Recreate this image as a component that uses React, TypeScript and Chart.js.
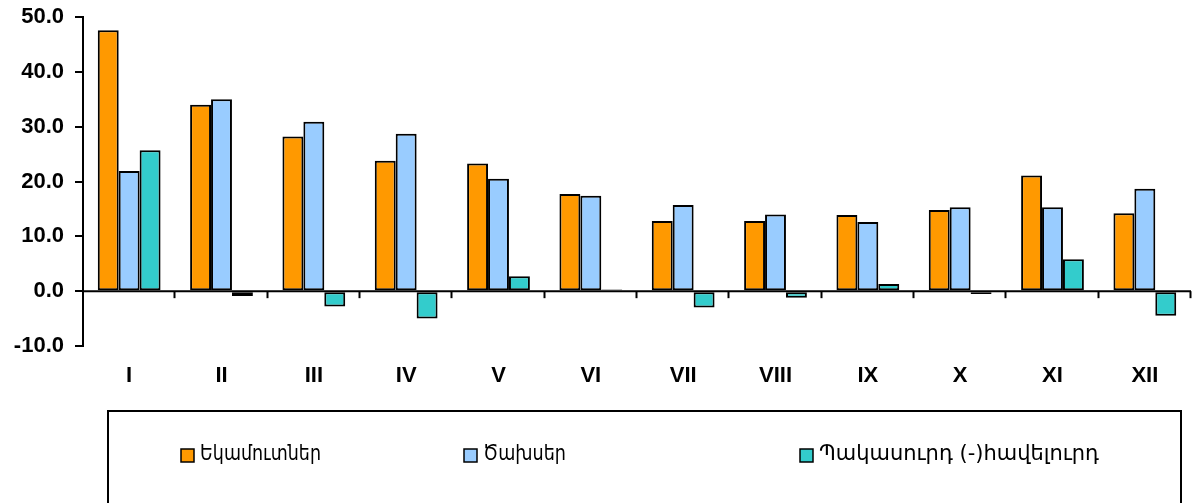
import React, { useEffect, useRef } from "react";
import { Chart, registerables } from "chart.js";

Chart.register(...registerables);

const categories = ["I", "II", "III", "IV", "V", "VI", "VII", "VIII", "IX", "X", "XI", "XII"];
const revenues = [47.6, 34.0, 28.2, 23.8, 23.3, 17.7, 12.8, 12.8, 13.9, 14.8, 21.1, 14.2];
const expenditures = [21.9, 35.0, 30.9, 28.7, 20.5, 17.4, 15.7, 14.0, 12.6, 15.3, 15.3, 18.7];
const balance = [25.7, -0.9, -2.8, -5.0, 2.7, 0.3, -3.0, -1.2, 1.3, -0.5, 5.8, -4.5];
const seriesNames = ["Եկամուտներ", "Ծախսեր", "Պակասուրդ (-)հավելուրդ"];
const seriesColors = ["#FF9900", "#99CCFF", "#33CCCC"];
const yTicks = [-10, 0, 10, 20, 30, 40, 50];

const legendItemX = [181, 464, 800];
const legendTextWidth = [121, 83, 280];

const overlayPlugin = {
  id: "overlay",
  afterDatasetsDraw(chart: any) {
    const { ctx, chartArea, scales } = chart;
    const y0 = scales.y.getPixelForValue(0);
    ctx.save();
    ctx.strokeStyle = "#000";
    ctx.lineWidth = 2;
    ctx.beginPath();
    ctx.moveTo(chartArea.left, y0);
    ctx.lineTo(chartArea.right, y0);
    ctx.stroke();
    const n = categories.length;
    const w = (chartArea.right - chartArea.left) / n;
    for (let i = 1; i <= n; i++) {
      const x = Math.round(chartArea.left + i * w) - 0.5;
      ctx.beginPath();
      ctx.moveTo(x, y0);
      ctx.lineTo(x, y0 + 7);
      ctx.stroke();
    }
    ctx.restore();
  },
  afterDraw(chart: any) {
    const { ctx } = chart;
    ctx.save();
    ctx.strokeStyle = "#000";
    ctx.lineWidth = 2;
    ctx.strokeRect(108, 411, 1073, 120);
    ctx.font = "21px 'DejaVu Sans'";
    ctx.textBaseline = "middle";
    seriesNames.forEach((name, i) => {
      const x = legendItemX[i];
      ctx.fillStyle = seriesColors[i];
      ctx.fillRect(x, 449, 13, 13);
      ctx.lineWidth = 1.5;
      ctx.strokeStyle = "#000";
      ctx.strokeRect(x, 449, 13, 13);
      ctx.fillStyle = "#000";
      const mw = ctx.measureText(name).width;
      const sx = legendTextWidth[i] / mw;
      ctx.save();
      ctx.translate(x + 19, 455);
      ctx.scale(sx, 1);
      ctx.fillText(name, 0, 0);
      ctx.restore();
    });
    ctx.restore();
  },
};

export default function App() {
  const ref = useRef<HTMLCanvasElement | null>(null);
  useEffect(() => {
    if (!ref.current) return;
    const mk = (i: number, data: number[]) => ({
      label: seriesNames[i],
      data,
      backgroundColor: seriesColors[i],
      borderColor: "#000",
      borderWidth: 2,
      borderSkipped: false,
      categoryPercentage: 0.68,
      barPercentage: 1.0,
    });
    const chart = new Chart(ref.current, {
      type: "bar",
      data: {
        labels: categories,
        datasets: [mk(0, revenues), mk(1, expenditures), mk(2, balance)],
      },
      options: {
        animation: false,
        responsive: false,
        maintainAspectRatio: false,
        layout: { padding: { top: 17, right: 3, bottom: 117, left: 0 } },
        plugins: { legend: { display: false }, tooltip: { enabled: false } },
        scales: {
          x: {
            grid: { display: false, drawTicks: false },
            border: { display: false },
            afterFit: (s: any) => {
              s.height = 40;
              s.paddingLeft = 0;
              s.paddingRight = 0;
            },
            ticks: {
              color: "#000",
              font: { family: "'Liberation Sans', Arial", size: 22, weight: "bold" },
              padding: 17,
            },
          },
          y: {
            min: -10,
            max: 50,
            afterBuildTicks: (s: any) => {
              s.ticks = yTicks.map((v) => ({ value: v }));
            },
            afterFit: (s: any) => {
              s.width = 83;
              s.paddingTop = 0;
              s.paddingBottom = 0;
            },
            grid: { drawOnChartArea: false, color: "#000", lineWidth: 2, tickLength: 8 },
            border: { display: true, color: "#000", width: 2 },
            ticks: {
              color: "#000",
              padding: 11,
              font: { family: "'Liberation Sans', Arial", size: 22, weight: "bold" },
              callback: (v: any) => Number(v).toFixed(1),
            },
          },
        },
      },
      plugins: [overlayPlugin],
    });
    return () => chart.destroy();
  }, []);
  return (
    <div style={{ position: "fixed", left: 0, top: 0, width: 1194, height: 503, background: "#fff" }}>
      <canvas ref={ref} width={1194} height={503} style={{ width: 1194, height: 503 }} />
    </div>
  );
}
